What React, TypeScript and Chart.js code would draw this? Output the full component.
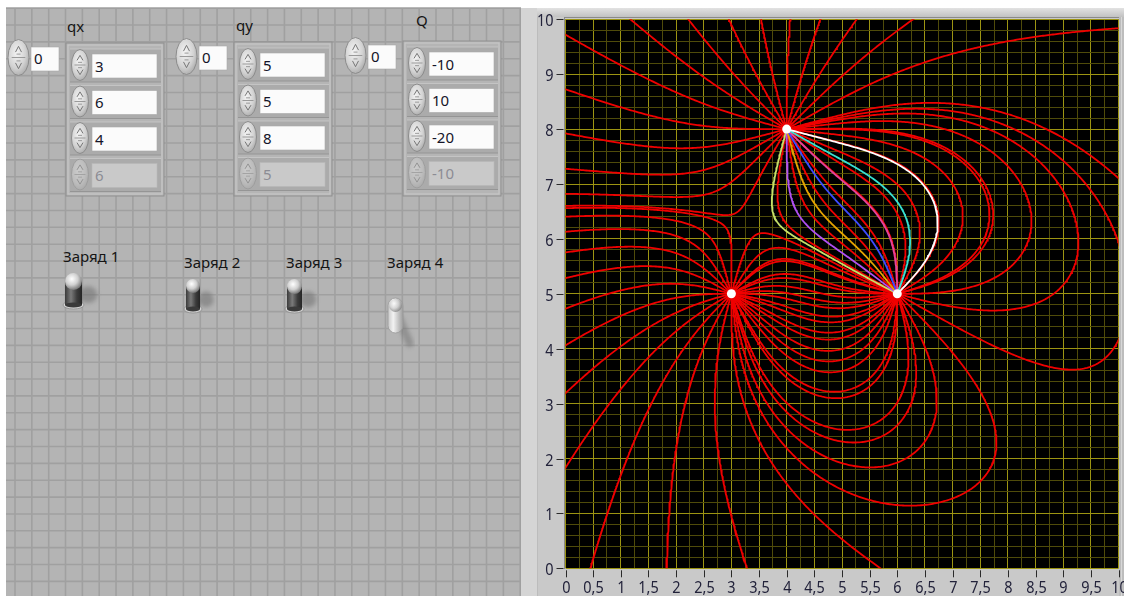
import React, { useEffect, useRef } from "react";
import { Chart, registerables } from "chart.js";

Chart.register(...registerables);

// Charges: position (qx, qy) and magnitude Q, one entry per array element
const qx = [3, 6, 4, 6];
const qy = [5, 5, 8, 5];
const Q = [-10, 10, -20, -10];
// "Заряд N" switches: which charges take part in the field
const chargeOn = [true, true, true, false];
// index displays of the three array controls
const arrayIndex = [0, 0, 0];

const switchLabels = ["Заряд 1", "Заряд 2", "Заряд 3", "Заряд 4"];

// axis tick labels
const xTicks = [0, 0.5, 1, 1.5, 2, 2.5, 3, 3.5, 4, 4.5, 5, 5.5, 6, 6.5, 7, 7.5, 8, 8.5, 9, 9.5, 10];
const yTicks = [0, 1, 2, 3, 4, 5, 6, 7, 8, 9, 10];

// field lines started around each charge (equal angular steps)
const linesPerCharge = 24;
// lines of charge 3 that keep their own plot colours (start-angle index)
const highlightCharge = 2;
const highlightIndex = [23, 22, 21, 20, 19, 18, 17];
const highlightColor = ["#ffffff", "#38e0d2", "#e0449c", "#3e4cff", "#e6a200", "#b050f2", "#c6e06a"];

type Pt = { x: number; y: number };
type Charge = { x: number; y: number; q: number; id: number };

function direction(ch: Charge[], x: number, y: number, s: number): [number, number] {
  let ex = 0;
  let ey = 0;
  for (const c of ch) {
    const dx = x - c.x;
    const dy = y - c.y;
    const r2 = dx * dx + dy * dy;
    const r3 = r2 * Math.sqrt(r2) + 1e-12;
    ex += (c.q * dx) / r3;
    ey += (c.q * dy) / r3;
  }
  const m = Math.hypot(ex, ey) || 1;
  return [(s * ex) / m, (s * ey) / m];
}

// follows E (positive source) or -E (negative source) until another charge or far outside
function traceFieldLine(ch: Charge[], start: number, angle: number): Pt[] {
  const c = ch[start];
  const s = c.q > 0 ? 1 : -1;
  const r0 = 0.03;
  const h = 0.01;
  let x = c.x + r0 * Math.cos(angle);
  let y = c.y + r0 * Math.sin(angle);
  const pts: Pt[] = [{ x: c.x, y: c.y }, { x, y }];
  let lx = x;
  let ly = y;
  for (let n = 0; n < 9000; n++) {
    const k1 = direction(ch, x, y, s);
    const k2 = direction(ch, x + 0.5 * h * k1[0], y + 0.5 * h * k1[1], s);
    const k3 = direction(ch, x + 0.5 * h * k2[0], y + 0.5 * h * k2[1], s);
    const k4 = direction(ch, x + h * k3[0], y + h * k3[1], s);
    x += (h / 6) * (k1[0] + 2 * k2[0] + 2 * k3[0] + k4[0]);
    y += (h / 6) * (k1[1] + 2 * k2[1] + 2 * k3[1] + k4[1]);
    let hit = -1;
    for (let j = 0; j < ch.length; j++) {
      if (j !== start && Math.hypot(x - ch[j].x, y - ch[j].y) < 0.025) hit = j;
    }
    if (hit >= 0) {
      pts.push({ x: ch[hit].x, y: ch[hit].y });
      break;
    }
    if (x < -6 || x > 16 || y < -6 || y > 16) {
      pts.push({ x, y });
      break;
    }
    if (Math.hypot(x - lx, y - ly) >= 0.025) {
      pts.push({ x, y });
      lx = x;
      ly = y;
    }
  }
  return pts;
}

const isWhole = (v: number, step: number) => Math.abs(v / step - Math.round(v / step)) < 1e-6;
const fmt = (v: number) => String(v).replace(".", ",");

// black plot area, outside tick marks and comma-decimal labels
const graphPlugin = {
  id: "graphFrame",
  beforeDraw(chart: any) {
    const { ctx, chartArea: a } = chart;
    ctx.save();
    ctx.fillStyle = "#000";
    ctx.fillRect(a.left, a.top, a.right - a.left, a.bottom - a.top);
    ctx.restore();
  },
  afterDraw(chart: any) {
    const { ctx, chartArea: a, scales } = chart;
    ctx.save();
    ctx.strokeStyle = "#2a2a2a";
    ctx.fillStyle = "#22223a";
    ctx.lineWidth = 1;
    ctx.font = '17px "Noto Sans"';
    for (const v of yTicks) {
      const py = Math.round(scales.y.getPixelForValue(v)) + 0.5;
      ctx.beginPath();
      ctx.moveTo(a.left - 9, py);
      ctx.lineTo(a.left - 2, py);
      ctx.stroke();
      ctx.save();
      ctx.translate(a.left - 12, py + 6);
      ctx.scale(0.85, 1);
      ctx.textAlign = "right";
      ctx.textBaseline = "alphabetic";
      ctx.fillText(fmt(v), 0, 0);
      ctx.restore();
    }
    for (const v of xTicks) {
      const px = Math.round(scales.x.getPixelForValue(v)) + 0.5;
      ctx.beginPath();
      ctx.moveTo(px, a.bottom + 2);
      ctx.lineTo(px, a.bottom + 9);
      ctx.stroke();
      ctx.save();
      ctx.translate(px, a.bottom + 24.7);
      ctx.scale(0.85, 1);
      ctx.textAlign = "center";
      ctx.textBaseline = "alphabetic";
      ctx.fillText(fmt(v), 0, 0);
      ctx.restore();
    }
    ctx.restore();
  },
};

function FieldChart() {
  const ref = useRef<HTMLCanvasElement>(null);
  useEffect(() => {
    const charges: Charge[] = [];
    qx.forEach((x, i) => {
      if (chargeOn[i]) charges.push({ x, y: qy[i], q: Q[i], id: i });
    });

    const red: any[] = [];
    const colored: any[] = [];
    charges.forEach((c, ci) => {
      for (let k = 0; k < linesPerCharge; k++) {
        const angle = (2 * Math.PI * k) / linesPerCharge;
        const data = traceFieldLine(charges, ci, angle);
        const hi = c.id === highlightCharge ? highlightIndex.indexOf(k) : -1;
        const ds = {
          data,
          showLine: true,
          borderColor: hi >= 0 ? highlightColor[hi] : "#f00000",
          borderWidth: 1.8,
          pointRadius: 0,
          fill: false,
          tension: 0,
        };
        (hi >= 0 ? colored : red).push(ds);
      }
    });

    const markers = {
      data: charges.map((c) => ({ x: c.x, y: c.y })),
      showLine: false,
      pointRadius: 4.5,
      pointBackgroundColor: "#ffffff",
      pointBorderColor: "#ffffff",
      pointBorderWidth: 0,
    };

    const gridColor = (step: number) => (ctx: any) =>
      isWhole(ctx.tick.value, step) ? "#9c9412" : "#4f4b0a";

    // the first dataset is painted last, so markers lead the list
    const datasets = [markers, ...colored.reverse(), ...red];

    const chart = new Chart(ref.current as HTMLCanvasElement, {
      type: "scatter",
      data: { datasets },
      options: {
        animation: false,
        responsive: false,
        devicePixelRatio: 1,
        events: [],
        layout: { padding: { top: 19.3, right: 5.5, left: 0, bottom: 0 } },
        plugins: { legend: { display: false }, tooltip: { enabled: false } },
        scales: {
          x: {
            type: "linear",
            min: 0,
            max: 10,
            ticks: { display: false, stepSize: 0.25, maxTicksLimit: 100 },
            grid: { color: gridColor(0.5), lineWidth: 1, drawTicks: false },
            border: { display: false },
            afterFit: (s: any) => {
              s.height = 27.7;
            },
          },
          y: {
            type: "linear",
            min: 0,
            max: 10,
            ticks: { display: false, stepSize: 0.2, maxTicksLimit: 100 },
            grid: { color: gridColor(1), lineWidth: 1, drawTicks: false },
            border: { display: false },
            afterFit: (s: any) => {
              s.width = 44.5;
            },
          },
        },
      } as any,
      plugins: [graphPlugin],
    });
    return () => chart.destroy();
  }, []);
  return (
    <canvas
      ref={ref}
      width={603}
      height={596}
      style={{ position: "absolute", left: 521, top: 0, width: 603, height: 596 }}
    />
  );
}

function Spinner({ cx, cy, rx, ry, faded }: { cx: number; cy: number; rx: number; ry: number; faded?: boolean }) {
  const a = ry * 0.62;
  const b = ry * 0.3;
  return (
    <g opacity={faded ? 0.45 : 1}>
      <ellipse cx={cx} cy={cy} rx={rx} ry={ry} fill="url(#spinFill)" stroke="#8c8c8c" strokeWidth={1} />
      <line x1={cx - rx * 0.65} x2={cx + rx * 0.65} y1={cy} y2={cy} stroke="#9a9a9a" strokeWidth={1} />
      <path d={`M${cx - 3} ${cy - b} L${cx} ${cy - a} L${cx + 3} ${cy - b}`} fill="none" stroke="#777" strokeWidth={1} />
      <line x1={cx - 2} x2={cx + 2} y1={cy - b + 2} y2={cy - b + 2} stroke="#888" strokeWidth={0.8} />
      <path d={`M${cx - 3} ${cy + b} L${cx} ${cy + a} L${cx + 3} ${cy + b}`} fill="none" stroke="#777" strokeWidth={1} />
      <line x1={cx - 2} x2={cx + 2} y1={cy + b - 2} y2={cy + b - 2} stroke="#888" strokeWidth={0.8} />
    </g>
  );
}

type Group = { label: string; values: number[]; x0: number; dy: number; lx: number; ly: number; index: number };

function ArrayControl({ g }: { g: Group }) {
  const { x0, dy } = g;
  return (
    <g>
      <text x={g.lx} y={g.ly} fontSize={15} fill="#151515">
        {g.label}
      </text>
      <Spinner cx={x0 + 10.5} cy={57.5 + dy} rx={10.5} ry={18} />
      <rect x={x0 + 23} y={47 + dy} width={28} height={24} fill="#fbfbfb" stroke="#a8a8a8" strokeWidth={0.6} />
      <text x={x0 + 26} y={64 + dy} fontSize={15} fill="#141428">
        {String(g.index)}
      </text>
      <rect x={x0 + 58} y={43 + dy} width={98} height={153 - dy} fill="#b5b5b5" stroke="#8f8f8f" strokeWidth={1} />
      <rect x={x0 + 60} y={45 + dy} width={94} height={149 - dy} fill="none" stroke="#c9c9c9" strokeWidth={1} />
      {g.values.map((v, i) => {
        const top = 54 + dy + 36.5 * i;
        const off = i === g.values.length - 1;
        return (
          <g key={i}>
            <rect x={x0 + 62} y={top - 5} width={91} height={33} fill="#ababab" />
            <line x1={x0 + 62} x2={x0 + 153} y1={top - 5} y2={top - 5} stroke="#c4c4c4" />
            <line x1={x0 + 62} x2={x0 + 153} y1={top + 28} y2={top + 28} stroke="#959595" />
            <Spinner cx={x0 + 72} cy={top + 11} rx={8.5} ry={15.5} faded={off} />
            <rect
              x={x0 + 84}
              y={top}
              width={65}
              height={24}
              fill={off ? "#c9c9c9" : "#fbfbfb"}
              stroke={off ? "#b8b8b8" : "#a8a8a8"}
              strokeWidth={0.6}
            />
            <text x={x0 + 87} y={top + 17.5} fontSize={15} fill={off ? "#8c8c94" : "#141428"}>
              {String(v)}
            </text>
          </g>
        );
      })}
    </g>
  );
}

type ToggleGeo = { x: number; y: number; w: number; h: number; lx: number; ly: number };
const toggleGeo: ToggleGeo[] = [
  { x: 65, y: 273, w: 17, h: 35, lx: 63, ly: 262 },
  { x: 186, y: 279, w: 14, h: 33, lx: 184, ly: 268 },
  { x: 287, y: 279, w: 15, h: 33, lx: 286, ly: 268 },
  { x: 388, y: 298, w: 15, h: 35, lx: 387, ly: 268 },
];

function Toggle({ t, on, label }: { t: ToggleGeo; on: boolean; label: string }) {
  const cx = t.x + t.w / 2;
  const r = t.w / 2;
  return (
    <g>
      <text x={t.lx} y={t.ly} fontSize={15} fill="#151515">
        {label}
      </text>
      {on ? (
        <g>
          <ellipse cx={t.x + t.w + 6} cy={t.y + t.h * 0.62} rx={t.w * 0.55} ry={t.h * 0.24} fill="#6e6e6e" opacity={0.55} filter="url(#soft)" />
          <ellipse cx={cx} cy={t.y + t.h - 3} rx={r + 2} ry={4} fill="#d6d6d6" stroke="#8a8a8a" strokeWidth={0.8} />
          <rect x={t.x} y={t.y + r} width={t.w} height={t.h - r - 3} fill="url(#leverDark)" />
          <ellipse cx={cx} cy={t.y + t.h - 3} rx={r} ry={2.5} fill="#3a3a3a" />
          <ellipse cx={cx} cy={t.y + r} rx={r} ry={r} fill="url(#capLight)" />
        </g>
      ) : (
        <g>
          <line x1={cx + 3} y1={t.y + t.h * 0.55} x2={cx + 14} y2={t.y + t.h + 10} stroke="#6e6e6e" strokeWidth={8} strokeLinecap="round" opacity={0.5} filter="url(#soft)" />
          <rect x={t.x} y={t.y} width={t.w} height={t.h} rx={r} ry={r} fill="url(#leverLight)" stroke="#9a9a9a" strokeWidth={0.8} />
          <ellipse cx={cx} cy={t.y + r} rx={r - 1} ry={r - 1} fill="url(#capLight)" opacity={0.7} />
        </g>
      )}
    </g>
  );
}

function PanelSvg() {
  const vLines: number[] = [];
  for (let k = 0; 15 + 16.84 * k <= 521; k++) vLines.push(15 + 16.84 * k);
  const hLines: number[] = [];
  for (let k = -1; 25 + 16.86 * k <= 596; k++) hLines.push(25 + 16.86 * k);
  const groups: Group[] = [
    { label: "qx", values: qx, x0: 8, dy: 0, lx: 67, ly: 32, index: arrayIndex[0] },
    { label: "qy", values: qy, x0: 176, dy: -1, lx: 236, ly: 31, index: arrayIndex[1] },
    { label: "Q", values: Q, x0: 345, dy: -2, lx: 416, ly: 26, index: arrayIndex[2] },
  ];
  return (
    <svg width={1124} height={596} style={{ position: "absolute", left: 0, top: 0 }} fontFamily='"Noto Sans", sans-serif'>
      <defs>
        <radialGradient id="spinFill" cx="42%" cy="38%" r="70%">
          <stop offset="0" stopColor="#f4f4f4" />
          <stop offset="0.6" stopColor="#d2d2d2" />
          <stop offset="1" stopColor="#a4a4a4" />
        </radialGradient>
        <linearGradient id="leverDark" x1="0" x2="1" y1="0" y2="0">
          <stop offset="0" stopColor="#3a3a3a" />
          <stop offset="0.35" stopColor="#7a7a7a" />
          <stop offset="0.7" stopColor="#3c3c3c" />
          <stop offset="1" stopColor="#252525" />
        </linearGradient>
        <linearGradient id="leverLight" x1="0" x2="1" y1="0" y2="0">
          <stop offset="0" stopColor="#c8c8c8" />
          <stop offset="0.35" stopColor="#f2f2f2" />
          <stop offset="1" stopColor="#9c9c9c" />
        </linearGradient>
        <radialGradient id="capLight" cx="40%" cy="35%" r="65%">
          <stop offset="0" stopColor="#ffffff" />
          <stop offset="0.55" stopColor="#d0d0d0" />
          <stop offset="1" stopColor="#7a7a7a" />
        </radialGradient>
        <linearGradient id="topBand" x1="0" x2="0" y1="0" y2="1">
          <stop offset="0" stopColor="#e2e2e2" />
          <stop offset="1" stopColor="#c2c2c2" />
        </linearGradient>
        <filter id="soft" x="-50%" y="-50%" width="200%" height="200%">
          <feGaussianBlur stdDeviation="2" />
        </filter>
      </defs>
      <rect x={0} y={0} width={1124} height={596} fill="#ffffff" />
      {/* front panel with grid */}
      <rect x={6} y={8} width={515} height={588} fill="#b4b4b4" />
      {vLines.map((x, i) => (
        <line key={"v" + i} x1={x} x2={x} y1={8} y2={596} stroke="#a0a0a0" strokeWidth={1.6} />
      ))}
      {hLines
        .filter((y) => y >= 8)
        .map((y, i) => (
          <line key={"h" + i} x1={6} x2={521} y1={y} y2={y} stroke="#a0a0a0" strokeWidth={1.6} />
        ))}
      {groups.map((g) => (
        <ArrayControl key={g.label} g={g} />
      ))}
      {toggleGeo.map((t, i) => (
        <Toggle key={i} t={t} on={chargeOn[i]} label={switchLabels[i]} />
      ))}
      {/* graph frame */}
      <rect x={521} y={8} width={603} height={588} fill="#c9c9c9" />
      <rect x={521} y={8} width={16} height={588} fill="#d5d5d5" />
      <line x1={537.5} x2={537.5} y1={8} y2={596} stroke="#bcbcbc" />
      <rect x={537} y={8} width={587} height={9} fill="url(#topBand)" />
      <line x1={564} x2={1119} y1={17.5} y2={17.5} stroke="#8a8a8a" />
      <line x1={564.5} x2={564.5} y1={17.5} y2={569} stroke="#8a8a8a" />
      <rect x={1119} y={17} width={5} height={579} fill="#bdbdbd" />
      <line x1={1121.5} x2={1121.5} y1={17} y2={596} stroke="#d8d8d8" />
    </svg>
  );
}

export default function App() {
  return (
    <div
      style={{
        position: "fixed",
        left: 0,
        top: 0,
        width: 1124,
        height: 596,
        background: "#fff",
        overflow: "hidden",
      }}
    >
      <PanelSvg />
      <FieldChart />
    </div>
  );
}
